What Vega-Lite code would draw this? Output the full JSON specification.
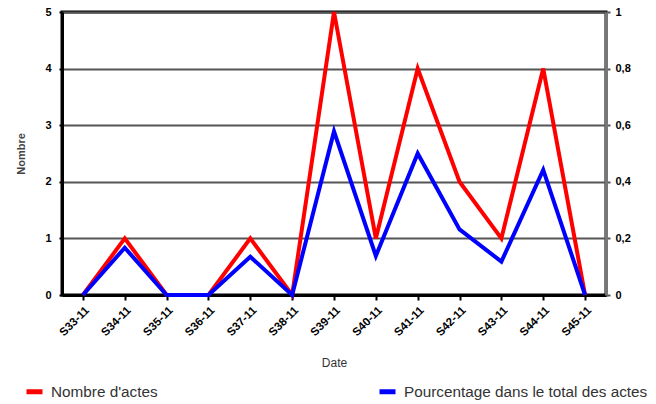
{
  "$schema": "https://vega.github.io/schema/vega-lite/v6.json",
  "width": 544,
  "height": 283,
  "autosize": {"type": "none"},
  "padding": {"left": 62, "top": 12, "right": 50, "bottom": 109},
  "background": "white",
  "config": {
    "font": "Liberation Sans",
    "view": {"stroke": "black", "strokeWidth": 3},
    "axis": {"labelFont": "Liberation Sans", "titleFont": "Liberation Sans"}
  },
  "data": {
    "values": [
      {"semaine": "S33-11", "nombre": 0, "pct": 0},
      {"semaine": "S34-11", "nombre": 1, "pct": 0.167},
      {"semaine": "S35-11", "nombre": 0, "pct": 0},
      {"semaine": "S36-11", "nombre": 0, "pct": 0},
      {"semaine": "S37-11", "nombre": 1, "pct": 0.135},
      {"semaine": "S38-11", "nombre": 0, "pct": 0},
      {"semaine": "S39-11", "nombre": 5, "pct": 0.578},
      {"semaine": "S40-11", "nombre": 1, "pct": 0.138},
      {"semaine": "S41-11", "nombre": 4, "pct": 0.5},
      {"semaine": "S42-11", "nombre": 2, "pct": 0.232},
      {"semaine": "S43-11", "nombre": 1, "pct": 0.118},
      {"semaine": "S44-11", "nombre": 4, "pct": 0.442},
      {"semaine": "S45-11", "nombre": 0, "pct": 0}
    ]
  },
  "encoding": {
    "x": {
      "field": "semaine",
      "type": "ordinal",
      "sort": null,
      "scale": {"type": "point", "padding": 0.5},
      "axis": {
        "title": "Date",
        "titleFontSize": 12,
        "titleFontWeight": "normal",
        "titleColor": "#333333",
        "titlePadding": 20,
        "labelAngle": -45,
        "labelFontSize": 11.5,
        "labelFontWeight": "bold",
        "labelColor": "black",
        "labelPadding": 4,
        "domainColor": "black",
        "domainWidth": 3,
        "tickColor": "black",
        "tickWidth": 2,
        "tickSize": 5,
        "grid": false
      }
    }
  },
  "layer": [
    {
      "mark": {"type": "line", "strokeWidth": 4, "clip": false},
      "encoding": {
        "y": {
          "field": "nombre",
          "type": "quantitative",
          "scale": {"domain": [0, 5], "nice": false},
          "axis": {
            "title": "Nombre",
            "titleFontSize": 11,
            "titleFontWeight": "bold",
            "titleColor": "#444444",
            "titlePadding": 18,
            "values": [0, 1, 2, 3, 4, 5],
            "labelFontSize": 11,
            "labelFontWeight": "bold",
            "labelColor": "black",
            "labelPadding": 8,
            "domainColor": "black",
            "domainWidth": 3,
            "ticks": true,
            "tickSize": 3,
            "tickColor": "black",
            "tickWidth": 2,
            "grid": true,
            "gridColor": "#555555",
            "gridWidth": 2
          }
        },
        "color": {
          "datum": "Nombre d'actes",
          "scale": {
            "domain": ["Nombre d'actes", "Pourcentage dans le total des actes"],
            "range": ["#ff0000", "#0000ff"]
          },
          "legend": {
            "title": null,
            "orient": "none",
            "direction": "horizontal",
            "legendX": -38,
            "legendY": 369,
            "symbolType": "stroke",
            "symbolSize": 256,
            "symbolStrokeWidth": 5,
            "labelFontSize": 15.3,
            "labelColor": "#333333",
            "labelFont": "Liberation Sans",
            "labelOffset": 6,
            "labelLimit": 600,
            "columnPadding": 211
          }
        }
      }
    },
    {
      "mark": {"type": "line", "strokeWidth": 4, "clip": false},
      "encoding": {
        "y": {
          "field": "pct",
          "type": "quantitative",
          "scale": {"domain": [0, 1], "nice": false},
          "axis": {
            "orient": "right",
            "title": null,
            "values": [0, 0.2, 0.4, 0.6, 0.8, 1],
            "labelExpr": "replace(format(datum.value, '~g'), '.', ',')",
            "labelFontSize": 11,
            "labelFontWeight": "bold",
            "labelColor": "black",
            "labelPadding": 5,
            "domainColor": "#777777",
            "domainWidth": 3,
            "tickSize": 4,
            "tickColor": "#555555",
            "tickWidth": 2,
            "grid": false
          }
        },
        "color": {"datum": "Pourcentage dans le total des actes"}
      }
    }
  ],
  "resolve": {"scale": {"y": "independent"}}
}
